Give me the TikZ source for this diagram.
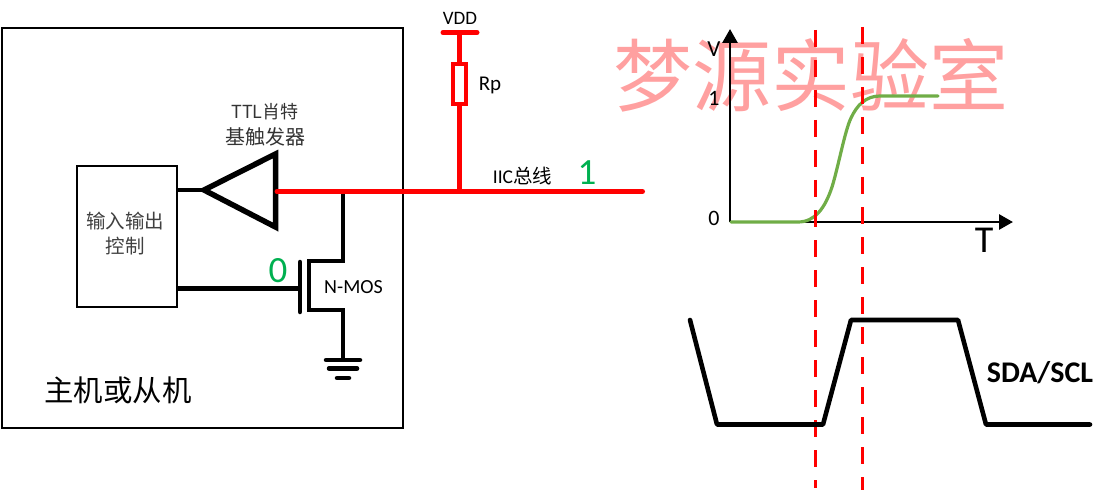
\documentclass[tikz,border=0pt]{standalone}
\usepackage{fontspec}
\setmainfont{Carlito}
\newfontfamily\cjk{Noto Sans CJK SC}
\usetikzlibrary{arrows.meta}
\definecolor{busred}{RGB}{255,0,0}
\definecolor{lblgreen}{RGB}{0,176,80}
\definecolor{curvegreen}{RGB}{112,173,71}
\definecolor{wmark}{RGB}{255,160,160}
\tikzset{
 lbl/.style={inner sep=0pt,outer sep=0pt,align=center,text=black},
 blk/.style={draw=black,line width=4.5pt},
 bus/.style={draw=busred,line width=5pt},
 frame/.style={draw=black,fill=none,inner sep=0pt,outer sep=0pt},
 axisline/.style={draw=black,line width=2.8pt,-{Triangle[length=14pt,width=15pt]}},
 guide/.style={draw=busred,line width=3pt,dash pattern=on 17pt off 13pt},
 wave/.style={draw=black,line width=4.6pt,line join=round,line cap=round},
 zero/.style={lbl,text=lblgreen,font=\fontsize{37}{37}\selectfont}
}
\begin{document}
\begin{tikzpicture}[x=1pt,y=-1pt]
\useasboundingbox (0,0) rectangle (1110,497);
\node[lbl,text=wmark,font=\cjk\fontsize{79}{79}\selectfont] (wm) at (811,75) {梦源实验室};
% boxes
\node[frame,line width=2.8pt,minimum width=401pt,minimum height=400pt] (host) at (202.5,228) {};
\node[frame,line width=1.8pt,minimum width=100pt,minimum height=141pt] (io) at (127,236.5) {};
\node[lbl,font=\cjk\fontsize{19.5}{21}\selectfont,text=black!75] (iotxt) at (125,234) {输入输出\\[4pt]控制};
\node[lbl,font=\cjk\fontsize{29.4}{30}\selectfont] (hosttxt) at (118,390) {主机或从机};
% schmitt
\coordinate (tip) at (204,190);
\coordinate (ttop) at (275.5,154);
\coordinate (tbot) at (275.5,227);
\draw[blk,line width=5.5pt,miter limit=10] (tip) -- (ttop) -- (tbot) -- cycle;
\coordinate (ioA) at (177,190);
\draw[blk] (ioA) -- (tip);
\node[lbl,font=\cjk\fontsize{18}{18}\selectfont,text=black!80] (ttl) at (265,112) {TTL肖特};
\node[lbl,font=\cjk\fontsize{20}{20}\selectfont,text=black!80] (base) at (265.5,137) {基触发器};
% bus
\coordinate (busL) at (277,191.5);
\coordinate (busR) at (642.5,191.5);
\coordinate (busT) at (459.5,191.5);
\coordinate (busM) at (343,191.5);
% NMOS
\coordinate (d1) at (343,261);
\coordinate (d2) at (309,261);
\coordinate (s2) at (309,310);
\coordinate (s1) at (343,310);
\coordinate (gnd) at (343,360);
\draw[blk,line join=miter] (busM) -- (d1) -- (d2) -- (s2) -- (s1) -- (gnd);
\coordinate (gt) at (300,262);
\coordinate (gb) at (300,312);
\draw[blk,line cap=round] (gt) -- (gb);
\coordinate (ioB) at (177,288.5);
\coordinate (gm) at (300,288.5);
\draw[blk] (ioB) -- (gm);
\coordinate (g1a) at (326,360); \coordinate (g1b) at (360,360);
\coordinate (g2a) at (329,368.5); \coordinate (g2b) at (357,368.5);
\coordinate (g3a) at (337,378); \coordinate (g3b) at (349,378);
\draw[blk,line cap=round] (g1a) -- (g1b);
\draw[blk,line cap=round] (g2a) -- (g2b);
\draw[blk,line cap=round] (g3a) -- (g3b);
\node[lbl,font=\fontsize{20}{20}\selectfont] (nmos) at (353.5,287) {N-MOS};
\node[zero] (zerolbl) at (278,271) {0};
% VDD / Rp
\coordinate (vl) at (443,32.5);
\coordinate (vr) at (477,32.5);
\coordinate (vm) at (459.5,32.5);
\draw[bus,line cap=round] (vl) -- (vr);
\node[draw=busred,line width=4.5pt,fill=white,inner sep=0pt,minimum width=13pt,minimum height=40pt] (rp) at (459.5,84) {};
\draw[bus] (vm) -- (rp.north);
\draw[bus] (rp.south) -- (busT);
\draw[bus,line cap=round] (busL) -- (busR);
\node[lbl,font=\fontsize{19}{19}\selectfont] (vdd) at (460,18) {VDD};
\node[lbl,font=\fontsize{21}{21}\selectfont] (rptxt) at (490,85) {Rp};
\node[lbl,font=\fontsize{19.5}{20}\selectfont] (iic) at (522.5,176) {IIC\cjk 总线};
\node[zero] (onelbl) at (587,173) {1};
% chart
\coordinate (o) at (730,222);
\coordinate (ytop) at (730,29);
\coordinate (xend) at (1013,222);
\draw[axisline] (o) -- (ytop);
\draw[axisline] (o) -- (xend);
\coordinate (c0) at (731,222);
\coordinate (c1) at (938,96);
\draw[draw=curvegreen,line width=3.2pt,line cap=round] (c0) -- (798,222) .. controls (815,222) and (825,208) .. (832,187) .. controls (838,168) and (845,130) .. (851,118) .. controls (857,105) and (866,96) .. (880,96) -- (c1);
\node[lbl,font=\fontsize{23}{23}\selectfont] (vlbl) at (714,49) {V};
\node[lbl,font=\fontsize{22}{22}\selectfont] (onet) at (714,98) {1};
\node[lbl,font=\fontsize{22}{22}\selectfont] (zerot) at (714,218) {0};
\node[lbl,font=\fontsize{38}{38}\selectfont] (tlbl) at (984,240) {T};
% guides
\coordinate (g1t) at (815,30); \coordinate (g1e) at (815,488);
\coordinate (g2t) at (862,27); \coordinate (g2e) at (862,490);
\draw[guide] (g1t) -- (g1e);
\draw[guide] (g2t) -- (g2e);
% waveform
\coordinate (w1) at (690,320); \coordinate (w2) at (717,424.5);
\coordinate (w3) at (823,424.5); \coordinate (w4) at (851,320);
\coordinate (w5) at (958,320); \coordinate (w6) at (986,424.5);
\coordinate (w7) at (1090,424.5);
\draw[wave] (w1) -- (w2) -- (w3) -- (w4) -- (w5) -- (w6) -- (w7);
\node[lbl,font=\bfseries\fontsize{30}{30}\selectfont] (sda) at (1040,373) {SDA/SCL};
\end{tikzpicture}
\end{document}
